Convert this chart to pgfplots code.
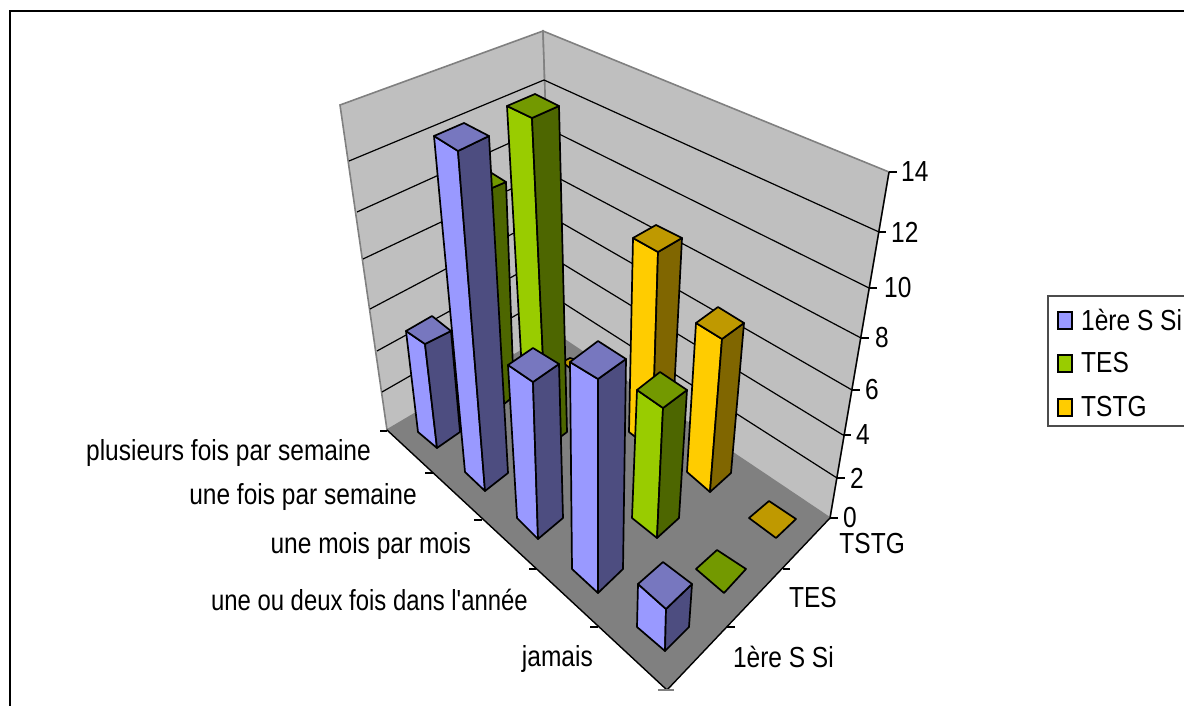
\documentclass[border=0pt]{standalone}
\usepackage{pgfplots}
\pgfplotsset{compat=1.18}
\usepackage{fontspec}
\setmainfont{Liberation Sans}[FakeStretch=0.845,Ligatures=TeXOff]
\definecolor{c1l}{HTML}{9999FF}\definecolor{c1d}{HTML}{4D4D80}\definecolor{c1t}{HTML}{7777BF}
\definecolor{c2l}{HTML}{99CC00}\definecolor{c2d}{HTML}{4D6600}\definecolor{c2t}{HTML}{739900}
\definecolor{c3l}{HTML}{FFCC00}\definecolor{c3d}{HTML}{806600}\definecolor{c3t}{HTML}{BF9900}
% colour, left, back, right, front, bottom left, bottom front, bottom right
\newcommand{\barr}[8]{%
 \addplot[draw=black,line width=1.7pt,line join=round,fill=c#1l] coordinates {#2 #5 #7 #6} --cycle;
 \addplot[draw=black,line width=1.7pt,line join=round,fill=c#1d] coordinates {#5 #4 #8 #7} --cycle;
 \addplot[draw=black,line width=1.7pt,line join=round,fill=c#1t] coordinates {#2 #3 #4 #5} --cycle;
}
\newcommand{\flatbar}[5]{\addplot[draw=black,line width=1.7pt,line join=round,fill=c#1t] coordinates {#2 #3 #4 #5} --cycle;}
\newcommand{\gl}[3]{\addplot[black,line width=1.2pt] coordinates {#1 #2 #3};}
\newcommand{\tk}[2]{\addplot[black,line width=1.2pt] coordinates {#1 #2};}
\newcommand{\lab}[3]{\node[anchor=#3,inner sep=0pt,font=\fontsize{29}{29}\selectfont] at (axis cs:#1) {#2};}
\begin{document}
\begin{tikzpicture}
\begin{axis}[scale only axis,width=1184pt,height=706pt,xmin=0,xmax=1184,ymin=0,ymax=706,y dir=reverse,axis lines=none,clip=true]
% page area
\addplot[draw=none,fill=white] coordinates {(0,0) (1184,0) (1184,706) (0,706)} --cycle;
% frame
\addplot[black,line width=2.2pt] coordinates {(10,706) (10,11) (1184,11)};
% walls and floor
\addplot[draw=black!50,line width=1.6pt,fill=black!25] coordinates {(340,105) (543,31) (553,332) (387,430)} --cycle;
\addplot[draw=black!50,line width=1.6pt,fill=black!25] coordinates {(543,31) (889,172) (830,518) (553,332)} --cycle;
% gridlines
\gl{(349,161)}{(544,80)}{(879,232)}
\gl{(357,212)}{(545,127)}{(869,288)}
\gl{(363,259)}{(547,172)}{(861,338)}
\gl{(370,309)}{(548,215)}{(852,390)}
\gl{(377,351)}{(550,256)}{(843,435)}
\gl{(382,392)}{(551,295)}{(837,478)}
% floor
\addplot[draw=none,fill=black!50] coordinates {(387,430) (553,332) (830,518) (667,690)} --cycle;
\addplot[black,line width=1.4pt] coordinates {(387,430) (667,690) (830,518) (889,172)};
% ticks
\tk{(889,172)}{(897,172)}\tk{(879,232)}{(886,232)}\tk{(869,288)}{(877,288)}\tk{(861,338)}{(869,338)}
\tk{(852,390)}{(860,390)}\tk{(843,435)}{(851,435)}\tk{(837,478)}{(845,478)}\tk{(830,518)}{(838,518)}
\tk{(380,431)}{(387,431)}\tk{(425,473)}{(433,473)}\tk{(474,520)}{(482,520)}\tk{(529,569)}{(536,569)}\tk{(590,627)}{(598,627)}
\addplot[black!50,line width=1.4pt] coordinates {(658,690) (674,690)};
\tk{(727,627)}{(735,627)}\tk{(783,569)}{(790,569)}
% bars, back to front
\flatbar{3}{(562,362)}{(570,358)}{(590,364)}{(575,372)}
\barr{2}{(470,182)}{(490,172)}{(506,182)}{(492,188)}{(484,392)}{(498,409)}{(514,396)}
\barr{2}{(507,106)}{(535,94)}{(559,106)}{(532,118)}{(525,425)}{(547,447)}{(567,432)}
\barr{3}{(633,238)}{(656,225)}{(682,238)}{(658,252)}{(629,432)}{(652,450)}{(672,433)}
\barr{1}{(406,331)}{(432,316)}{(451,331)}{(425,344)}{(418,432)}{(437,448)}{(460,432)}
\barr{1}{(434,136)}{(464,123)}{(489,136)}{(458,151)}{(465,472)}{(485,491)}{(508,473)}
\barr{3}{(696,323)}{(718,307)}{(744,323)}{(722,339)}{(687,472)}{(710,492)}{(731,473)}
\barr{1}{(508,365)}{(533,348)}{(559,364)}{(533,382)}{(517,518)}{(538,539)}{(563,518)}
\barr{2}{(637,390)}{(660,372)}{(687,390)}{(663,408)}{(632,518)}{(657,538)}{(679,518)}
\barr{1}{(570,362)}{(598,341)}{(626,359)}{(598,379)}{(572,569)}{(598,593)}{(623,569)}
\flatbar{3}{(749,518)}{(769,501)}{(796,519)}{(776,538)}
\flatbar{2}{(696,569)}{(717,550)}{(746,569)}{(724,593)}
\barr{1}{(638,584)}{(663,562)}{(692,584)}{(666,609)}{(637,627)}{(665,651)}{(689,627)}
% value labels
\lab{901,172}{14}{west}\lab{891,232}{12}{west}\lab{884,288}{10}{west}\lab{875,338}{8}{west}
\lab{865,390}{6}{west}\lab{856,435}{4}{west}\lab{850,478}{2}{west}\lab{843,518}{0}{west}
% category labels
\lab{371,453}{plusieurs fois par semaine}{east}
\lab{417,497}{une fois par semaine}{east}
\lab{471,546}{une mois par mois}{east}
\lab{528,600}{\scalebox{0.975}[1]{une ou deux fois dans l'année}}{east}
\lab{593,659}{jamais}{east}
\lab{834,657}{1ère S Si}{east}
\lab{837,598}{TES}{east}
\lab{905,544}{TSTG}{east}
% legend
\addplot[black!70!white,line width=1.3pt] coordinates {(1184,296) (1048,296) (1048,426) (1184,426)};
\addplot[draw=black,line width=1.4pt,fill=c1l] coordinates {(1058,312) (1072,312) (1072,329) (1058,329)} --cycle;
\addplot[draw=black,line width=1.4pt,fill=c2l] coordinates {(1058,355) (1072,355) (1072,372) (1058,372)} --cycle;
\addplot[draw=black,line width=1.4pt,fill=c3l] coordinates {(1058,399) (1072,399) (1072,416) (1058,416)} --cycle;
\lab{1081,320}{1ère S Si}{west}
\lab{1081,363}{TES}{west}
\lab{1081,407}{TSTG}{west}
\end{axis}
\end{tikzpicture}
\end{document}
